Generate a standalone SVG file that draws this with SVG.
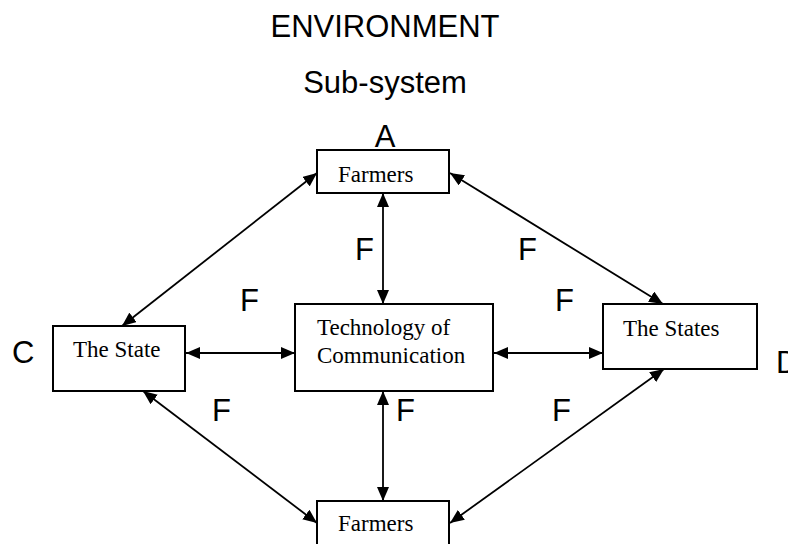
<svg xmlns="http://www.w3.org/2000/svg" width="788" height="544" viewBox="0 0 788 544">
<defs>
<marker id="ah" viewBox="0 0 14 12" refX="14" refY="6" markerWidth="14" markerHeight="12" markerUnits="userSpaceOnUse" orient="auto-start-reverse">
<path d="M0,0 L14,6 L0,12 Z" fill="#000"/>
</marker>
<style>
.box{fill:#fff;stroke:#000;stroke-width:2}
.t{font-family:"Liberation Serif","Times New Roman",serif;font-size:23px;fill:#000}
.s{font-family:"Liberation Sans",Arial,sans-serif;font-size:31px;fill:#000}
.c{stroke:#000;stroke-width:1.8;fill:none;marker-start:url(#ah);marker-end:url(#ah)}
</style>
</defs>
<rect width="788" height="544" fill="#fff"/>
<text class="s" x="385" y="37" text-anchor="middle">ENVIRONMENT</text>
<text class="s" x="385" y="93" text-anchor="middle">Sub-system</text>
<g id="connectors">
<line class="c" x1="317" y1="173" x2="122" y2="326"/>
<line class="c" x1="450" y1="173" x2="663" y2="304"/>
<line class="c" x1="383" y1="193" x2="383" y2="304"/>
<line class="c" x1="186" y1="353" x2="295" y2="353"/>
<line class="c" x1="494" y1="353" x2="603" y2="353"/>
<line class="c" x1="383" y1="391" x2="383" y2="501"/>
<line class="c" x1="143" y1="391" x2="317" y2="523"/>
<line class="c" x1="664" y1="369" x2="450" y2="523"/>
</g>
<g id="labels">
<text class="s" x="240" y="311">F</text>
<text class="s" x="355" y="260">F</text>
<text class="s" x="518" y="260">F</text>
<text class="s" x="555" y="311">F</text>
<text class="s" x="212" y="421">F</text>
<text class="s" x="396" y="421">F</text>
<text class="s" x="552" y="421">F</text>
<text class="s" x="12" y="363">C</text>
<text class="s" x="776" y="373">D</text>
</g>
<g id="farmers-top">
<text class="s" x="385" y="147" text-anchor="middle">A</text>
<rect class="box" x="317" y="150" width="132" height="43"/>
<text class="t" x="338" y="182">Farmers</text>
</g>
<g id="the-state">
<rect class="box" x="53" y="326" width="132" height="65"/>
<text class="t" x="73" y="357">The State</text>
</g>
<g id="technology">
<rect class="box" x="295" y="304" width="198" height="87"/>
<text class="t" x="317" y="335">Technology of</text>
<text class="t" x="317" y="363">Communication</text>
</g>
<g id="the-states">
<rect class="box" x="603" y="304" width="154" height="65"/>
<text class="t" x="623" y="336">The States</text>
</g>
<g id="farmers-bottom">
<rect class="box" x="317" y="501" width="132" height="50"/>
<text class="t" x="338" y="531">Farmers</text>
</g>
</svg>
